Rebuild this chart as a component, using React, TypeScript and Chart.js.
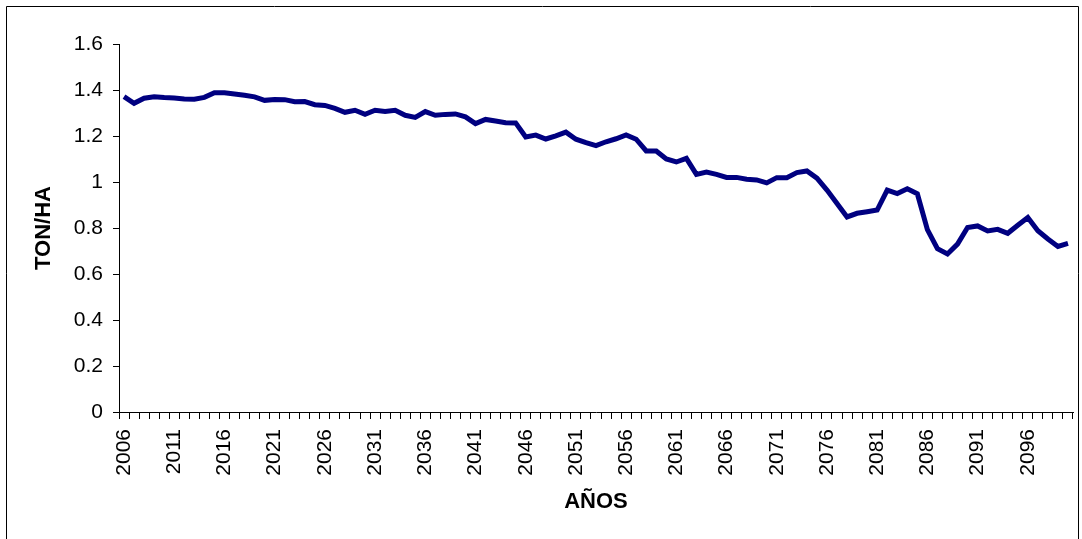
import React, { useEffect, useRef } from "react";
import { Chart, registerables } from "chart.js";

Chart.register(...registerables);

const years: string[] = [
  "2006","2007","2008","2009","2010","2011","2012","2013","2014","2015",
  "2016","2017","2018","2019","2020","2021","2022","2023","2024","2025",
  "2026","2027","2028","2029","2030","2031","2032","2033","2034","2035",
  "2036","2037","2038","2039","2040","2041","2042","2043","2044","2045",
  "2046","2047","2048","2049","2050","2051","2052","2053","2054","2055",
  "2056","2057","2058","2059","2060","2061","2062","2063","2064","2065",
  "2066","2067","2068","2069","2070","2071","2072","2073","2074","2075",
  "2076","2077","2078","2079","2080","2081","2082","2083","2084","2085",
  "2086","2087","2088","2089","2090","2091","2092","2093","2094","2095",
  "2096","2097","2098","2099","2100",
];

const tonPorHa: number[] = [
  1.371, 1.342, 1.364, 1.371, 1.367, 1.365, 1.361, 1.360, 1.368, 1.388,
  1.388, 1.383, 1.377, 1.370, 1.355, 1.359, 1.358, 1.349, 1.350, 1.336,
  1.333, 1.320, 1.303, 1.312, 1.294, 1.312, 1.307, 1.312, 1.290, 1.281,
  1.306, 1.290, 1.294, 1.296, 1.283, 1.254, 1.272, 1.265, 1.258, 1.257,
  1.196, 1.204, 1.187, 1.201, 1.217, 1.186, 1.171, 1.158, 1.175, 1.188,
  1.205, 1.186, 1.135, 1.135, 1.100, 1.087, 1.103, 1.033, 1.043, 1.033,
  1.020, 1.020, 1.012, 1.009, 0.996, 1.019, 1.019, 1.041, 1.048, 1.017,
  0.965, 0.907, 0.848, 0.864, 0.871, 0.878, 0.965, 0.950, 0.971, 0.949,
  0.793, 0.710, 0.687, 0.730, 0.802, 0.809, 0.787, 0.794, 0.777, 0.812,
  0.846, 0.788, 0.752, 0.720, 0.733,
];

const yTitle = "TON/HA";
const xTitle = "AÑOS";

const FONT = "'Liberation Sans', Arial, sans-serif";

const framePlugin = {
  id: "frame",
  beforeDraw(chart: any) {
    const ctx = chart.ctx;
    ctx.save();
    ctx.fillStyle = "#ffffff";
    ctx.fillRect(0, 0, chart.width, chart.height);
    ctx.strokeStyle = "#000000";
    ctx.lineWidth = 1;
    ctx.beginPath();
    ctx.moveTo(6.5, chart.height + 5);
    ctx.lineTo(6.5, 6.5);
    ctx.lineTo(1078.5, 6.5);
    ctx.lineTo(1078.5, chart.height + 5);
    ctx.stroke();
    ctx.restore();
  },
};

export default function App() {
  const canvasRef = useRef<HTMLCanvasElement | null>(null);

  useEffect(() => {
    document.body.style.margin = "0";
    const canvas = canvasRef.current;
    if (!canvas) return;
    const chart = new Chart(canvas, {
      type: "line",
      data: {
        labels: years,
        datasets: [
          {
            data: tonPorHa,
            borderColor: "#000080",
            backgroundColor: "#000080",
            borderWidth: 5,
            pointRadius: 0,
            tension: 0,
            fill: false,
          },
        ],
      },
      options: {
        animation: false,
        responsive: false,
        devicePixelRatio: 1,
        layout: { padding: { top: 44, right: 9, left: 0, bottom: 0 } },
        plugins: {
          legend: { display: false },
          tooltip: { enabled: false },
        },
        scales: {
          x: {
            type: "category",
            offset: true,
            grid: {
              offset: true,
              drawOnChartArea: false,
              drawTicks: true,
              tickLength: 7,
              color: "#000000",
            },
            border: { display: true, color: "#000000", width: 1 },
            ticks: {
              autoSkip: false,
              maxRotation: 90,
              minRotation: 90,
              padding: 10,
              color: "#000000",
              font: { family: FONT, size: 21 },
              callback: function (this: any, val: any, index: number) {
                return index % 5 === 0 ? this.getLabelForValue(val) : "";
              },
            },
            title: {
              display: true,
              text: xTitle,
              color: "#000000",
              font: { family: FONT, size: 22, weight: "bold" },
              padding: { top: 0, bottom: 24 },
            },
            afterFit(scale: any) {
              scale.height = 127;
              scale.paddingRight = 0;
              scale.paddingLeft = 0;
            },
          },
          y: {
            min: 0,
            max: 1.6,
            grid: {
              drawOnChartArea: false,
              drawTicks: true,
              tickLength: 6,
              color: "#000000",
            },
            border: { display: true, color: "#000000", width: 1 },
            ticks: {
              stepSize: 0.2,
              padding: 10,
              color: "#000000",
              font: { family: FONT, size: 21 },
              callback: (v: any) => String(+Number(v).toFixed(1)),
            },
            title: {
              display: true,
              text: yTitle,
              color: "#000000",
              font: { family: FONT, size: 22, weight: "bold" },
              padding: { top: 31, bottom: 0 },
            },
            afterFit(scale: any) {
              scale.width = 119;
            },
          },
        },
      },
      plugins: [framePlugin],
    });
    return () => chart.destroy();
  }, []);

  return (
    <div style={{ position: "absolute", left: 0, top: 0, width: 1082, height: 539 }}>
      <canvas ref={canvasRef} width={1082} height={539} style={{ display: "block" }} />
    </div>
  );
}
